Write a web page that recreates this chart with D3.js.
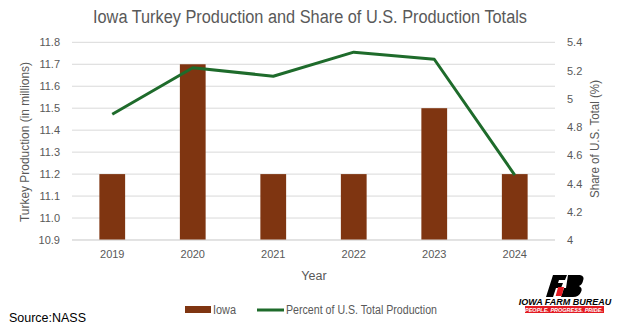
<!DOCTYPE html>
<html><head><meta charset="utf-8">
<script src="https://cdn.jsdelivr.net/npm/d3@7"></script>
<style>
html,body{margin:0;padding:0;background:#fff;}
svg{display:block;font-family:"Liberation Sans",Arial,sans-serif;}
</style></head>
<body><svg id="chart" width="618" height="330"></svg>
<script>
const years = ["2019","2020","2021","2022","2023","2024"];
const iowaProduction = [11.2, 11.7, 11.2, 11.2, 11.5, 11.2];
const sharePercent = [4.89, 5.22, 5.16, 5.33, 5.28, 4.46];
const leftTicks = [10.9, 11.0, 11.1, 11.2, 11.3, 11.4, 11.5, 11.6, 11.7, 11.8];
const rightTicks = [4, 4.2, 4.4, 4.6, 4.8, 5, 5.2, 5.4];

const svg = d3.select("#chart");
const plotLeft = 72, plotRight = 555, plotTop = 42.3, plotBottom = 240;
const textColor = "#595959";

const x = d3.scaleBand().domain(years).range([plotLeft, plotRight]).paddingInner(0.68).paddingOuter(0.34);
const yL = d3.scaleLinear().domain([10.9, 11.8]).range([plotBottom, plotTop]);
const yR = d3.scaleLinear().domain([4, 5.4]).range([plotBottom, plotTop]);

// title
svg.append("text").attr("x", 93).attr("y", 23)
  .attr("font-size", 18).attr("fill", textColor)
  .attr("textLength", 434).attr("lengthAdjust", "spacingAndGlyphs")
  .text("Iowa Turkey Production and Share of U.S. Production Totals");

// gridlines
svg.append("g").selectAll("line").data(leftTicks).join("line")
  .attr("x1", plotLeft).attr("x2", plotRight)
  .attr("y1", d => yL(d)).attr("y2", d => yL(d))
  .attr("stroke", "#d9d9d9").attr("stroke-width", 1);

// left axis
const gL = svg.append("g").attr("transform", `translate(${plotLeft},0)`)
  .call(d3.axisLeft(yL).tickValues(leftTicks).tickFormat(d3.format(".1f")).tickSize(0).tickPadding(12));
gL.select(".domain").remove();
gL.selectAll("text").attr("font-size", 11).attr("fill", textColor);

// right axis
const gR = svg.append("g").attr("transform", `translate(${plotRight},0)`)
  .call(d3.axisRight(yR).tickValues(rightTicks).tickFormat(d => String(+d.toFixed(1))).tickSize(0).tickPadding(12));
gR.select(".domain").remove();
gR.selectAll("text").attr("font-size", 11).attr("fill", textColor);

// x axis
const gX = svg.append("g").attr("transform", `translate(0,${plotBottom})`)
  .call(d3.axisBottom(x).tickSize(0).tickPadding(10));
gX.select(".domain").remove();
gX.selectAll("text").attr("font-size", 11).attr("fill", textColor);

// bars
svg.append("g").selectAll("rect").data(years).join("rect")
  .attr("x", d => x(d)).attr("width", x.bandwidth())
  .attr("y", (d, i) => yL(iowaProduction[i]))
  .attr("height", (d, i) => plotBottom - yL(iowaProduction[i]))
  .attr("fill", "#7F3511");

// baseline axis line
svg.append("line").attr("x1", plotLeft).attr("x2", plotRight).attr("y1", plotBottom).attr("y2", plotBottom)
  .attr("stroke", "#d9d9d9").attr("stroke-width", 1);

// line
const line = d3.line().x((d, i) => x(years[i]) + x.bandwidth() / 2).y(d => yR(d));
svg.append("path").datum(sharePercent).attr("d", line)
  .attr("fill", "none").attr("stroke", "#1E6B2B").attr("stroke-width", 3).attr("stroke-linejoin", "round");

// axis titles
svg.append("text").attr("transform", "translate(29,142) rotate(-90)").attr("text-anchor", "middle")
  .attr("font-size", 12.5).attr("fill", textColor)
  .attr("textLength", 160).attr("lengthAdjust", "spacingAndGlyphs")
  .text("Turkey Production (in millions)");
svg.append("text").attr("transform", "translate(599,139) rotate(-90)").attr("text-anchor", "middle")
  .attr("font-size", 12.5).attr("fill", textColor)
  .attr("textLength", 118).attr("lengthAdjust", "spacingAndGlyphs")
  .text("Share of U.S. Total (%)");
svg.append("text").attr("x", 314).attr("y", 280).attr("text-anchor", "middle")
  .attr("font-size", 12.5).attr("fill", textColor).text("Year");

// legend
const lg = svg.append("g");
lg.append("rect").attr("x", 185).attr("y", 306).attr("width", 26).attr("height", 7).attr("fill", "#7F3511");
lg.append("text").attr("x", 213).attr("y", 314).attr("font-size", 12).attr("fill", textColor)
  .attr("textLength", 23).attr("lengthAdjust", "spacingAndGlyphs").text("Iowa");
lg.append("line").attr("x1", 257).attr("x2", 284).attr("y1", 310).attr("y2", 310)
  .attr("stroke", "#1E6B2B").attr("stroke-width", 3);
lg.append("text").attr("x", 286).attr("y", 314).attr("font-size", 12).attr("fill", textColor)
  .attr("textLength", 151).attr("lengthAdjust", "spacingAndGlyphs")
  .text("Percent of U.S. Total Production");

// source
svg.append("text").attr("x", 9).attr("y", 322).attr("font-size", 13.5).attr("fill", "#000")
  .attr("textLength", 77).attr("lengthAdjust", "spacingAndGlyphs").text("Source:NASS");

// logo
const logo = svg.append("g");
logo.append("path").attr("d", "M553,275 L567,275 L565,280 L559,280 L558,283 L563,283 L561,288 L556,288 L553,297 L546,297 Z").attr("fill", "#000");
logo.append("path").attr("d", "M568,275 L580,275 Q585,276 583,281 Q582,285 579,286 Q583,288 581,292 Q579,297 573,297 L561,297 L564,288 L566,288 Z").attr("fill", "#000");
logo.append("rect").attr("x", 557).attr("y", 287).attr("width", 6).attr("height", 9).attr("fill", "#e31b23").attr("transform", "skewX(-15) translate(78,0)");
logo.append("text").attr("x", 565).attr("y", 305).attr("text-anchor", "middle").attr("font-size", 9)
  .attr("font-weight", "bold").attr("font-style", "italic").attr("fill", "#000")
  .text("IOWA FARM BUREAU");
logo.append("rect").attr("x", 525).attr("y", 306).attr("width", 79).attr("height", 7).attr("fill", "#e31b23");
logo.append("text").attr("x", 564).attr("y", 311.8).attr("text-anchor", "middle").attr("font-size", 5.5)
  .attr("font-weight", "bold").attr("font-style", "italic").attr("fill", "#fff")
  .text("PEOPLE. PROGRESS. PRIDE.");
</script></body></html>
